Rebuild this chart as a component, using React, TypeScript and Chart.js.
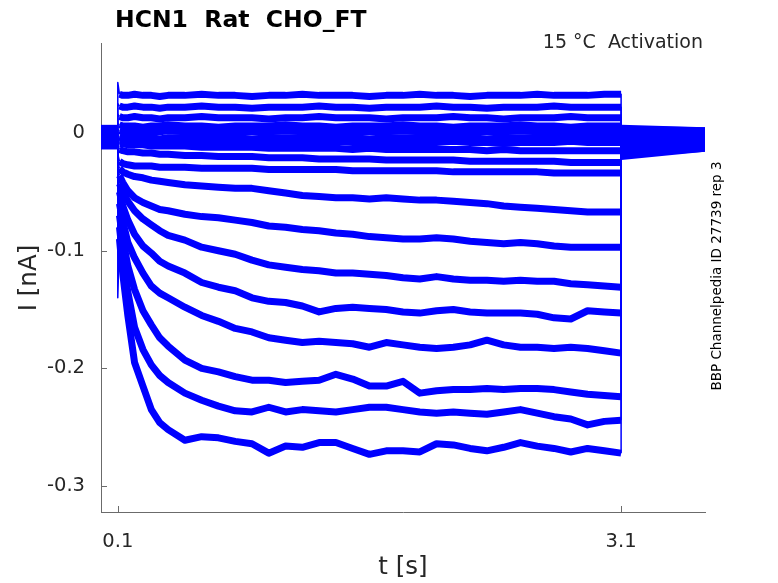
import React, { useEffect, useRef } from 'react';
import Chart from 'chart.js/auto';

// time axis (s)
const preTimes = [0, 0.1];
const stepTimes = [
  0.1, 0.11, 0.13, 0.16, 0.2, 0.25, 0.3, 0.35, 0.4,
  0.5, 0.6, 0.7, 0.8, 0.9, 1.0, 1.1, 1.2, 1.3,
  1.4, 1.5, 1.6, 1.7, 1.8, 1.9, 2.0, 2.1, 2.2,
  2.3, 2.4, 2.5, 2.6, 2.7, 2.8, 2.9, 3.0, 3.1,
];
const tailTimes = [3.1, 3.6];

const xTicks = [0.1, 3.1];
const yTicks = [0, -0.1, -0.2, -0.3];

// holding current before the step (nA), one per sweep
const baselines = [0.004, 0.002, 0.0, -0.002, -0.004, -0.006, -0.008, -0.01, -0.011, 0.003, 0.001, -0.001, -0.003, -0.005, -0.007, -0.009, 0.0, -0.002];

// tail current after the step (nA), start / end
const tailStart = [0.004, 0.003, 0.002, 0.0, -0.001, -0.002, -0.004, -0.005, -0.007, -0.008, -0.009, -0.011, -0.012, -0.014, -0.015, -0.017, -0.018, -0.02];
const tailEnd = [0.002, 0.002, 0.001, 0.0, -0.001, -0.002, -0.003, -0.004, -0.005, -0.006, -0.007, -0.008, -0.009, -0.01, -0.011, -0.012, -0.013, -0.013];

// current during the step (nA), sampled at stepTimes
const sweep01 = [
  0.043, 0.033, 0.032, 0.032, 0.033, 0.032, 0.032, 0.031, 0.032,
  0.032, 0.033, 0.032, 0.032, 0.031, 0.032, 0.032, 0.033, 0.032,
  0.032, 0.032, 0.031, 0.032, 0.032, 0.033, 0.032, 0.032, 0.031,
  0.032, 0.032, 0.032, 0.033, 0.032, 0.032, 0.032, 0.033, 0.033,
];
const sweep02 = [
  0.025, 0.023, 0.022, 0.022, 0.023, 0.022, 0.022, 0.021, 0.022,
  0.022, 0.023, 0.022, 0.022, 0.021, 0.022, 0.022, 0.022, 0.023,
  0.022, 0.022, 0.021, 0.022, 0.022, 0.022, 0.023, 0.022, 0.022,
  0.021, 0.022, 0.022, 0.022, 0.023, 0.022, 0.022, 0.022, 0.022,
];
const sweep03 = [
  0.016, 0.014, 0.013, 0.013, 0.014, 0.013, 0.013, 0.012, 0.013,
  0.013, 0.014, 0.013, 0.013, 0.013, 0.012, 0.013, 0.013, 0.014,
  0.013, 0.013, 0.013, 0.012, 0.013, 0.013, 0.013, 0.014, 0.013,
  0.013, 0.012, 0.013, 0.013, 0.013, 0.014, 0.013, 0.013, 0.013,
];
const sweep04 = [
  0.008, 0.007, 0.006, 0.006, 0.006, 0.005, 0.006, 0.006, 0.007,
  0.006, 0.006, 0.005, 0.006, 0.006, 0.006, 0.007, 0.006, 0.006,
  0.005, 0.006, 0.006, 0.006, 0.007, 0.006, 0.006, 0.005, 0.006,
  0.006, 0.006, 0.007, 0.006, 0.006, 0.005, 0.006, 0.006, 0.006,
];
const sweep05 = [
  0.003, 0.002, 0.001, 0.001, 0.001, 0.0, 0.001, 0.001, 0.002,
  0.001, 0.001, 0.0, 0.001, 0.001, 0.001, 0.002, 0.001, 0.001,
  0.0, 0.001, 0.001, 0.001, 0.002, 0.001, 0.001, 0.0, 0.001,
  0.001, 0.001, 0.002, 0.001, 0.001, 0.0, 0.001, 0.001, 0.001,
];
const sweep06 = [
  -0.002, -0.003, -0.004, -0.004, -0.003, -0.004, -0.004, -0.005, -0.004,
  -0.004, -0.003, -0.004, -0.004, -0.005, -0.004, -0.004, -0.004, -0.003,
  -0.004, -0.004, -0.005, -0.004, -0.004, -0.004, -0.003, -0.004, -0.004,
  -0.005, -0.004, -0.004, -0.004, -0.003, -0.004, -0.004, -0.004, -0.004,
];
const sweep07 = [
  -0.005, -0.007, -0.007, -0.008, -0.008, -0.007, -0.008, -0.008, -0.009,
  -0.008, -0.008, -0.007, -0.008, -0.008, -0.009, -0.008, -0.008, -0.008,
  -0.007, -0.008, -0.008, -0.009, -0.008, -0.008, -0.008, -0.007, -0.008,
  -0.008, -0.009, -0.008, -0.008, -0.008, -0.007, -0.008, -0.008, -0.008,
];
const sweep08 = [
  -0.007, -0.009, -0.009, -0.01, -0.01, -0.01, -0.011, -0.011, -0.011,
  -0.011, -0.012, -0.012, -0.012, -0.012, -0.013, -0.013, -0.013, -0.013,
  -0.013, -0.014, -0.013, -0.014, -0.014, -0.014, -0.014, -0.014, -0.014,
  -0.015, -0.014, -0.015, -0.015, -0.015, -0.015, -0.015, -0.015, -0.015,
];
const sweep09 = [
  -0.01, -0.014, -0.015, -0.016, -0.016, -0.017, -0.017, -0.018, -0.018,
  -0.019, -0.019, -0.02, -0.02, -0.02, -0.021, -0.021, -0.021, -0.022,
  -0.022, -0.022, -0.022, -0.023, -0.023, -0.023, -0.023, -0.023, -0.024,
  -0.024, -0.024, -0.024, -0.024, -0.024, -0.025, -0.025, -0.025, -0.025,
];
const sweep10 = [
  -0.018, -0.024, -0.026, -0.027, -0.028, -0.028, -0.028, -0.029, -0.029,
  -0.029, -0.03, -0.03, -0.03, -0.03, -0.031, -0.031, -0.031, -0.031,
  -0.031, -0.032, -0.032, -0.032, -0.032, -0.032, -0.032, -0.033, -0.033,
  -0.033, -0.033, -0.033, -0.033, -0.034, -0.034, -0.034, -0.034, -0.034,
];
const sweep11 = [
  -0.025, -0.03, -0.033, -0.035, -0.037, -0.038, -0.04, -0.041, -0.042,
  -0.044, -0.045, -0.046, -0.047, -0.047, -0.049, -0.051, -0.053, -0.054,
  -0.055, -0.055, -0.056, -0.055, -0.056, -0.057, -0.057, -0.058, -0.059,
  -0.06, -0.062, -0.063, -0.064, -0.065, -0.066, -0.067, -0.067, -0.067,
];
const sweep12 = [
  -0.03, -0.036, -0.042, -0.049, -0.055, -0.059, -0.062, -0.065, -0.066,
  -0.069, -0.071, -0.072, -0.074, -0.076, -0.079, -0.08, -0.082, -0.083,
  -0.085, -0.086, -0.088, -0.089, -0.09, -0.09, -0.089, -0.09, -0.092,
  -0.093, -0.094, -0.093, -0.094, -0.096, -0.097, -0.097, -0.097, -0.097,
];
const sweep13 = [
  -0.035, -0.043, -0.05, -0.058, -0.066, -0.073, -0.078, -0.083, -0.087,
  -0.091, -0.097, -0.1, -0.103, -0.108, -0.112, -0.114, -0.116, -0.117,
  -0.119, -0.119, -0.12, -0.121, -0.123, -0.124, -0.122, -0.124, -0.125,
  -0.125, -0.126, -0.125, -0.126, -0.126, -0.128, -0.129, -0.13, -0.131,
];
const sweep14 = [
  -0.04, -0.05, -0.062, -0.074, -0.086, -0.096, -0.102, -0.109, -0.113,
  -0.119, -0.127, -0.131, -0.134, -0.14, -0.143, -0.144, -0.147, -0.152,
  -0.149, -0.148, -0.149, -0.15, -0.152, -0.153, -0.151, -0.15, -0.152,
  -0.153, -0.153, -0.153, -0.154, -0.157, -0.158, -0.151, -0.152, -0.153,
];
const sweep15 = [
  -0.045, -0.06, -0.075, -0.093, -0.106, -0.119, -0.13, -0.136, -0.14,
  -0.148, -0.155, -0.16, -0.166, -0.169, -0.174, -0.176, -0.178, -0.177,
  -0.178, -0.179, -0.182, -0.178, -0.18, -0.182, -0.183, -0.182, -0.18,
  -0.176, -0.18, -0.182, -0.182, -0.183, -0.182, -0.183, -0.185, -0.187,
];
const sweep16 = [
  -0.05, -0.07, -0.09, -0.113, -0.133, -0.151, -0.163, -0.174, -0.181,
  -0.193, -0.2, -0.203, -0.207, -0.21, -0.21, -0.212, -0.211, -0.21,
  -0.205, -0.209, -0.215, -0.215, -0.211, -0.221, -0.219, -0.218, -0.218,
  -0.217, -0.218, -0.217, -0.217, -0.218, -0.22, -0.222, -0.223, -0.224,
];
const sweep17 = [
  -0.055, -0.08, -0.105, -0.135, -0.165, -0.184, -0.197, -0.206, -0.212,
  -0.221, -0.227, -0.232, -0.236, -0.237, -0.233, -0.237, -0.235, -0.236,
  -0.237, -0.235, -0.233, -0.233, -0.235, -0.237, -0.238, -0.237, -0.238,
  -0.239, -0.237, -0.235, -0.238, -0.241, -0.243, -0.248, -0.245, -0.244,
];
const sweep18 = [
  -0.14, -0.09, -0.12, -0.155, -0.195, -0.215, -0.235, -0.246, -0.252,
  -0.261, -0.258, -0.259, -0.262, -0.264, -0.272, -0.266, -0.267, -0.263,
  -0.263, -0.268, -0.273, -0.27, -0.27, -0.271, -0.264, -0.265, -0.268,
  -0.27, -0.267, -0.263, -0.266, -0.268, -0.271, -0.268, -0.27, -0.272,
];

const sweeps = [
  sweep01, sweep02, sweep03, sweep04, sweep05, sweep06, sweep07, sweep08, sweep09,
  sweep10, sweep11, sweep12, sweep13, sweep14, sweep15, sweep16, sweep17, sweep18,
];

const FONT = '"DejaVu Sans", sans-serif';
const AXIS_COLOR = '#6b6b6b';
const TEXT_COLOR = '#262626';
const TRACE_WIDTH = 7;

const overlay = {
  id: 'overlay',
  beforeDatasetsDraw(chart: any) {
    const { ctx, chartArea, scales } = chart;
    ctx.save();
    ctx.strokeStyle = AXIS_COLOR;
    ctx.lineWidth = 1;
    ctx.beginPath();
    yTicks.forEach((v) => {
      const py = Math.round(scales.y.getPixelForValue(v)) + 0.5;
      ctx.moveTo(chartArea.left, py);
      ctx.lineTo(chartArea.left + 6, py);
    });
    xTicks.forEach((v) => {
      const px = Math.round(scales.x.getPixelForValue(v)) + 0.5;
      ctx.moveTo(px, chartArea.bottom);
      ctx.lineTo(px, chartArea.bottom - 6);
    });
    ctx.stroke();
    ctx.restore();
  },
  afterDraw(chart: any) {
    const { ctx } = chart;
    ctx.save();
    ctx.fillStyle = '#000';
    ctx.textAlign = 'left';
    ctx.textBaseline = 'alphabetic';
    ctx.font = `bold 23.5px ${FONT}`;
    ctx.fillText('HCN1  Rat  CHO_FT', 115, 27);

    ctx.fillStyle = TEXT_COLOR;
    ctx.font = `19px ${FONT}`;
    ctx.textAlign = 'right';
    ctx.fillText('15 °C  Activation', 703, 48);

    ctx.font = `24.5px ${FONT}`;
    ctx.textAlign = 'center';
    ctx.textBaseline = 'middle';
    ctx.fillText('t [s]', 403, 568);

    ctx.save();
    ctx.translate(30, 278);
    ctx.rotate(-Math.PI / 2);
    ctx.fillText('I [nA]', 0, 0);
    ctx.restore();

    ctx.fillStyle = '#000';
    ctx.font = `13.5px ${FONT}`;
    ctx.translate(717, 276);
    ctx.rotate(-Math.PI / 2);
    ctx.fillText('BBP Channelpedia ID 27739 rep 3', 0, 0);
    ctx.restore();
  },
};

const App: React.FC = () => {
  const canvasRef = useRef<HTMLCanvasElement | null>(null);

  useEffect(() => {
    if (!canvasRef.current) return;
    const ctx = canvasRef.current.getContext('2d');
    if (!ctx) return;

    const datasets = sweeps.map((values, i) => ({
      data: [
        ...preTimes.map((t) => ({ x: t, y: baselines[i] })),
        ...stepTimes.map((t, j) => ({ x: t, y: values[j] })),
        { x: tailTimes[0], y: tailStart[i] },
        { x: tailTimes[1], y: tailEnd[i] },
      ],
      borderColor: '#0000ff',
      borderWidth: TRACE_WIDTH,
      borderJoinStyle: 'round' as const,
      pointRadius: 0,
      tension: 0,
      segment: {
        // voltage steps drawn thin, noisy traces drawn as a wide band
        borderWidth: (c: any) => (Math.abs(c.p1.x - c.p0.x) < 2 ? 1.5 : TRACE_WIDTH),
      },
    }));

    const chart = new Chart(ctx, {
      type: 'line',
      data: { datasets },
      options: {
        animation: false,
        responsive: true,
        maintainAspectRatio: false,
        parsing: false,
        layout: { padding: { top: 43, right: 73, left: 0, bottom: 0 } },
        plugins: {
          legend: { display: false },
          tooltip: { enabled: false },
        },
        scales: {
          x: {
            type: 'linear',
            min: 0,
            max: 3.6,
            afterFit: (s: any) => { s.height = 71; },
            afterBuildTicks: (s: any) => { s.ticks = xTicks.map((v) => ({ value: v })); },
            grid: { display: false, drawTicks: false },
            border: { display: true, color: AXIS_COLOR, width: 1 },
            ticks: {
              padding: 18,
              color: TEXT_COLOR,
              font: { family: FONT, size: 19.5 },
              callback: (v: any) => String(v),
            },
          },
          y: {
            type: 'linear',
            min: -0.322,
            max: 0.0765,
            afterFit: (s: any) => { s.width = 101; },
            afterBuildTicks: (s: any) => { s.ticks = yTicks.map((v) => ({ value: v })); },
            grid: { display: false, drawTicks: false },
            border: { display: true, color: AXIS_COLOR, width: 1 },
            ticks: {
              padding: 16,
              color: TEXT_COLOR,
              font: { family: FONT, size: 19.5 },
              callback: (v: any) => String(v),
            },
          },
        },
      },
      plugins: [overlay],
    });

    return () => {
      chart.destroy();
    };
  }, []);

  return (
    <div style={{ position: 'fixed', left: 0, top: 0, width: 778, height: 583, background: '#fff' }}>
      <canvas ref={canvasRef} />
    </div>
  );
};

export default App;
